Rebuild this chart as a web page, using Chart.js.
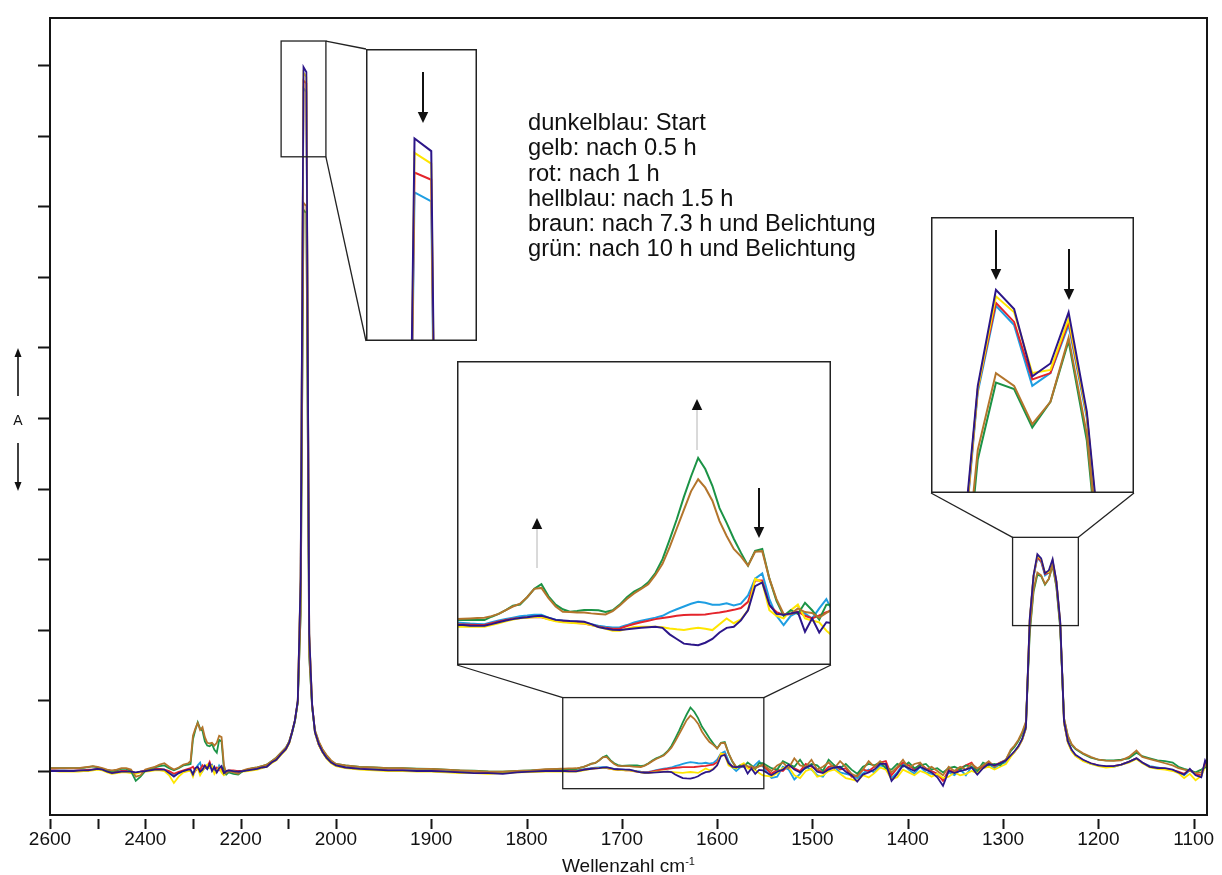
<!DOCTYPE html>
<html>
<head>
<meta charset="utf-8">
<title>IR-Spektren</title>
<script src="https://cdn.jsdelivr.net/npm/chart.js@4.4.1/dist/chart.umd.min.js"></script>
<style>
  html, body { margin: 0; padding: 0; background: #fff; }
  #wrap { position: relative; width: 1222px; height: 875px; overflow: hidden;
          font-family: "Liberation Sans", Arial, Helvetica, sans-serif; color: #111; }
  #main { position: absolute; left: 0; top: 0; }
  .inset { position: absolute; background: #fff; }
  #legend { position: absolute; left: 528px; top: 110px; font-size: 23.7px; line-height: 25.3px; white-space: nowrap; }
  #xtitle { position: absolute; left: 50px; width: 1157px; top: 850px; text-align: center; font-size: 19px; line-height: 22px; }
  #xtitle sup { font-size: 11px; }
  #ylabel { position: absolute; left: 8px; width: 20px; top: 411px; text-align: center; font-size: 14px; line-height: 18px; }
</style>
</head>
<body>
<div id="wrap">
  <canvas id="main" width="1222" height="875"></canvas>
  <div id="legend"></div>
  <div id="xtitle">Wellenzahl cm<sup>-1</sup></div>
  <div id="ylabel">A</div>
</div>
<script>
// ---- Spectral data (absorbance in mA, baseline 0) ----
const wavenumbers = [
  2600,2590,2580,2570,2560,2550,2540,2530,2520,2510,2500,2490,2480,2470,2460,2450,2440,2430,2420,2410,2400,2390,2380,2370,2360,2350,2340,2330,2320,2310,
  2305,2300,2295,2290,2285,2280,2275,2270,2265,2260,2255,2250,2245,2240,2235,2230,2225,
  2215,2205,2195,2185,2175,2165,2155,2145,2135,2125,2115,2105,2098,
  2092,2086,2080,2074,2068,2062,2056,2050,2044,2036,2028,2020,2010,2000,
  1990,1975,1960,1945,1930,1915,1900,1885,1870,1855,1840,1825,1810,1795,1780,1768,
  1764,1760,1756,1752,1748,1744,1740,1736,1732,1728,1724,1720,1716,1712,1708,1704,1700,1696,1692,1688,1684,1680,1676,1672,1668,1664,1660,1656,1652,1648,1644,1640,1636,1632,1628,1624,1620,1616,1612,1608,1604,1600,1596,1592,1588,1584,1580,1576,1572,1568,1564,1560,1556,1552,
  1543,1537,1531,1525,1519,1513,1507,1501,1495,1489,1483,1477,1471,1465,1459,1453,1447,1441,1435,1429,1423,1417,1411,1405,1399,1393,1387,1381,1375,1369,1363,1357,1351,1345,1339,1333,1327,1321,1315,1309,1303,1297,
  1292,1288,1284,1280,1276,1272,1268,1264,1260,1256,1252,1248,1244,1240,1236,1232,1228,1224,
  1216,1208,1200,1192,1184,1176,1168,1160,1154,1146,1138,1130,1122,1116,1110,1104,1098,1092,1088,1084
];

const dunkelblau = [
  0,0,0,0,0,0,0.5,1,1,2, 3,2,-1,-3,-2,-1,-1,-1,-2,-1, 0,1,2,2,2,-3,-8,-3,0,2,
  2,-5,4,6,-1,2,8,3,10,0,6,-2,4,7,-3,0,1,
  0,-1,0,1,2,3,5,6,12,16,24,31,40,
  55,72,100,275,997,990,195,95,55,38,27,19,12,8,
  5,3,2,1,1,0,0,-1,-2,-3,-3,-4,-2,-1,0,0,
  0,0,-0.3,-0.4,-0.4,0.5,1.5,2.5,3.2,3.8, 4.2,4.8,5,4,2.8,2.5,2.2,2,1.8,0.5, -1,-1.8,-2.5,-2.7,-2.2,-1.8,-1.5,-1.2,-0.9,-1.5,
  -5,-7.5,-10,-10.5,-10.8,-9.5,-7.5,-4,-1.5,-0.9, 2.5,8,21,23,11,6,5.5,6.3,7,-3.6, 3.6,-4,1.5,0.9,
  -6,-1,2,9,2,-2,5,8,-1,-3, 2,5,6,-1,-6,-15,-5,-2,2,10, 10,-14,-4,8,4,0,6,2,-2,-9, -21,0,-3,0,2,5,-5,4,10,8, 11,15,
  22,28,35,45,62,216,277,307,301,280,284,300,269,212,70,42,30,23,
  16,11,8,7,7,9,13,18,12,6,4,4,2,-2,-5,3,-6,-9,15,4
];

const gelb = [
  0,0,-1,-1,-1,-1,-1,0,0,1, 2,1,-2,-4,-3,-2,-2,-3,-4,-2, -1,0,1,1,0,-6,-17,-8,-2,0,
  0,-8,2,4,-6,0,6,9,4,7,-4,1,5,-2,-6,-3,0,
  0,-2,-1,0,1,2,4,6,11,15,23,30,39,
  54,71,99,272,989,983,193,94,54,37,26,18,11,7,
  4,2,1,0,0,-1,-1,-2,-3,-3,-4,-3,-2,-1.5,-1,-0.9,
  -0.9,-0.9,-0.9,-0.9,-0.9,0,1,2,3,3.7, 4,4.4,4.3,3,2,1.5,1.2,1,0.9,0, -1,-2,-3,-3,-2,-1,-0.9,-0.9,-0.9,-1.2,
  -1.8,-2.3,-2.7,-2,-1.4,-2,-2.7,0.5,3.6,1, 3,8,25,23,8,5,3.6,8,11,3.6, 2.5,1.5,-3,-6.3,
  -8,-3,4,6,-6,-10,0,3,-8,-6, 0,2,-4,-10,-12,-14,-6,-9,-3,5, 2,-12,-9,2,-2,-6,0,-3,-8,-4, -10,-8,-2,-6,-4,0,-3,4,6,2, 6,10,
  20,27,34,44,61,214,276,305,300,281,282,298,268,210,68,40,28,21,
  14,10,7,5,6,9,12,17,11,5,3,2,0,-3,-10,-4,-13,-7,6,2
];

const rot = [
  1,1,0.5,0.5,0.5,0.5,1,1,2,2, 3,2,0,-2,-1,0,0,-1,-3,-1, 1,2,3,3,2,0,-4,-1,1,3,
  4,6,0,5,2,8,4,6,13,3,2,5,1,3,-4,0,1,
  1,0,0,1,2,3,5,7,12,16,24,31,40,
  55,71,99,270,978,974,192,94,55,37,27,19,12,8,
  5,3,2,1,1,0,0,-1,-2,-2,-3,-2,-1,0,0.3,0.4,
  0.4,0.3,0.2,0.1,0,1,2,2.8,3.4,3.8, 4.1,4.4,4.2,3.2,2.3,1.8,1.5,1.1,0.9,0, -0.8,-1.5,-2,-1.8,-0.5,0.6,1.5,2.3,3.2,3.8,
  4.4,5,5.4,5.5,5.6,5.7,6.3,6.8,7.4,8.2, 9.2,12.5,24,24,10.5,7,5.4,6,7.2,5, 3.6,5.2,7,8.1,
  -4,2,0,8,4,0,10,6,2,-2, 6,8,2,4,-8,-6,2,0,6,12, 14,-6,4,12,8,2,10,4,0,-4, -14,2,-2,4,8,12,0,6,12,8, 12,15,
  21,27,34,44,61,213,276,303,297,279,281,297,268,209,69,41,29,22,
  15,11,8,6,7,9,13,18,12,6,4,3,1,-1,-4,2,-4,-6,12,6
];

const hellblau = [
  1,1,1,1,0.5,0.5,1,1,1,2, 3,2,-1,-3,-2,-1,-1,-2,-3,-1, 0,1,2,3,2,-2,-6,-3,0,2,
  1,-3,3,8,12,0,5,3,6,9,1,-1,8,3,-5,-2,0,
  0,-1,0,1,2,3,5,7,12,16,24,31,40,
  54,70,98,266,967,962,190,93,54,37,27,19,12,8,
  5,3,2,1,1,0.5,0,-1,-1.5,-2,-2.5,-2,-1,0,1,1.4,
  1.4,1.1,0.8,0.6,0.4,1.5,2.5,3.3,4,4.7, 5.1,5.6,5.5,4,2.9,2.3,2,1.6,1.4,0.5, -0.3,-0.9,-1.3,-1.2,0,1.4,2.3,3.2,4,5,
  7,8.5,10,11.5,12.6,12,11,10.9,11.7,10.5, 11.5,16,25,27.8,14,5,0,5,7,6.3, 3.5,9,14,6.3,
  -10,-8,6,2,-12,-4,6,2,-6,-8, 4,6,-2,-4,-6,-10,-3,2,-2,8, 6,-10,-2,10,2,-4,6,-2,-4,-6, -12,-2,-6,2,-6,6,-4,8,10,4, 10,12,
  21,27,34,44,60,212,275,302,296,277,281,296,267,208,68,41,29,22,
  15,10,8,6,6,9,13,18,12,7,5,3,1,-2,-6,1,-5,-8,10,3
];

const braun = [
  4,4,4,4,4,4,4,5,6,7, 6,4,2,1,2,4,4,2,-8,-6, 2,4,6,9,11,6,2,5,9,11,
  14,50,60,68,58,62,48,40,39,40,36,40,50,48,8,-3,0,
  -2,-4,1,3,4,5,7,9,14,19,26,33,42,
  56,72,98,225,805,800,165,92,58,42,31,23,15,10,
  8,6,5,4,4,3,3,2,1,0,-1,-1,0,1,2.5,3,
  3.2,3.4,3.6,3.8,3.9,4.8,6,8,10,11.5, 15,19.5,20,14.5,10,7.2,7,6.8,6.8,6.3, 6,5.7,7.5,10.5,14,17,19.5,22,27,33,
  42,52,62,72,78.5,74,67,56,48,41, 37,32,39.5,39.8,25,14,6,6,9,7, 6.5,4,6.5,9,
  0,8,12,4,18,8,6,16,2,6, 12,4,14,6,-4,-8,2,14,6,14, 8,-2,6,16,4,10,12,2,6,0, -6,6,0,6,2,10,4,8,14,6, 12,16,
  30,36,44,55,70,200,257,281,277,265,272,292,262,205,75,50,38,32,
  25,20,16,14.6,14.5,15,20,29,20,17,14,11,8,4,2,0,-3,-2,8,5
];

const gruen = [
  4,4,4,4,4,4,4,4.5,5.5,6.5, 5,3,1,0,1,3,3,0,-14,-8, 0,3,5,7,8,4,1,4,8,9,
  10,45,58,69,60,57,42,36,35,38,30,26,44,42,3,-5,-2,
  -4,-5,0,2,4,5,7,9,14,19,26,33,42,
  55,71,97,222,795,790,162,91,57,41,30,22,14,10,
  8,6,5,4,4,3.5,3,2,1,0.5,-0.5,-1,0,1,2,2.7,
  2.7,2.7,2.7,2.7,2.7,4.5,6,8,10.4,11.1, 15,19.5,22,15.5,11,8.5,7.2,7.6,8.1,8.1, 8,7,8,11,15,18,20,23,28,35.5,
  46,57,69,80,90,84,75,63,55,46.5, 39,32,40,41,25,13,5,8,6,12, 8,3,11,11,
  4,2,14,10,6,16,4,10,8,0, 16,8,4,10,2,-4,6,10,8,12, 4,2,10,6,12,4,8,10,2,4, -2,4,6,2,8,6,0,12,8,10, 8,16,
  28,34,42,53,68,195,254,278,276,264,272,291,260,202,74,49,37,31,
  24,19,16,15,15,16,18,26,21,18,15,14,12,6,3,1,-2,2,5,8
];

const seriesLabels = [
  'dunkelblau: Start',
  'gelb: nach 0.5 h',
  'rot: nach 1 h',
  'hellblau: nach 1.5 h',
  'braun: nach 7.3 h und Belichtung',
  'grün: nach 10 h und Belichtung'
];
const seriesValues = [dunkelblau, gelb, rot, hellblau, braun, gruen];
const seriesColors = ['#2c1689', '#ffe600', '#e4242b', '#1e9ee2', '#b3752c', '#1b9346'];
// Chart.js paints the first dataset last, so this list runs from top layer to bottom layer
const drawOrder = [0, 4, 5, 1, 2, 3];

const tickWavenumbers = [2600, 2500, 2400, 2300, 2200, 2100, 2000, 1900, 1800, 1700, 1600, 1500, 1400, 1300, 1200, 1100];
const labelledWavenumbers = [2600, 2400, 2200, 2000, 1900, 1800, 1700, 1600, 1500, 1400, 1300, 1200, 1100];
const absorbanceTicks = [0, 100, 200, 300, 400, 500, 600, 700, 800, 900, 1000];

seriesValues.forEach((s, i) => {
  if (s.length !== wavenumbers.length) console.error('length mismatch', seriesLabels[i], s.length, wavenumbers.length);
});

// The wavenumber axis is compressed by a factor of two above 2000 cm-1
const BREAK = 2000;
function toAxis(wn) { return wn >= BREAK ? (2600 - wn) / 2 : 300 + (BREAK - wn); }
function fromAxis(u) { return u <= 300 ? 2600 - 2 * u : BREAK - (u - 300); }

function makeDatasets(width) {
  return drawOrder.map(i => ({
    label: seriesLabels[i],
    data: wavenumbers.map((w, k) => ({ x: toAxis(w), y: seriesValues[i][k] })),
    borderColor: seriesColors[i],
    backgroundColor: seriesColors[i],
    borderWidth: width,
    pointRadius: 0,
    tension: 0,
    fill: false
  }));
}

// Magnified views: region of the main plot (data units) and where the enlargement sits (pixels)
const insets = [
  { id: 'inset1', box: { wn: [2115, 2021], a: [870, 1034] },
    left: 366, top: 49, width: 111, height: 292,
    wn: [2085.4, 2045.6], a: [884, 1047],
    links: [['tr', 'tl'], ['br', 'bl']],
    arrows: [{ x: 57, from: 23, to: 74, kind: 'bold' }] },
  { id: 'inset2', box: { wn: [1762, 1551], a: [-25, 104] },
    left: 457, top: 361, width: 374, height: 304,
    wn: [1763.4, 1553.4], a: [-21.5, 142.2],
    links: [['tl', 'bl'], ['tr', 'br']],
    arrows: [{ x: 80, from: 207, to: 157, kind: 'thin' },
             { x: 240, from: 89, to: 38, kind: 'thin' },
             { x: 302, from: 127, to: 177, kind: 'bold' }] },
  { id: 'inset3', box: { wn: [1290, 1221], a: [206, 331] },
    left: 931, top: 217, width: 203, height: 276,
    wn: [1278.3, 1233.6], a: [243.5, 329.8],
    links: [['tl', 'bl'], ['tr', 'br']],
    arrows: [{ x: 65, from: 13, to: 63, kind: 'bold' },
             { x: 138, from: 32, to: 83, kind: 'bold' }] }
];

function drawArrow(ctx, x, y1, y2, kind) {
  const dir = y2 > y1 ? 1 : -1;
  const headL = kind === 'small' ? 9 : 11;
  const headW = kind === 'small' ? 7 : 10.5;
  ctx.save();
  ctx.beginPath();
  ctx.moveTo(x, y1);
  ctx.lineTo(x, y2 - dir * headL * 0.8);
  if (kind === 'thin') { ctx.strokeStyle = '#b4b4b4'; ctx.lineWidth = 1; }
  else { ctx.strokeStyle = '#111'; ctx.lineWidth = kind === 'small' ? 1.6 : 2; }
  ctx.stroke();
  ctx.beginPath();
  ctx.moveTo(x, y2);
  ctx.lineTo(x - headW / 2, y2 - dir * headL);
  ctx.lineTo(x + headW / 2, y2 - dir * headL);
  ctx.closePath();
  ctx.fillStyle = '#111';
  ctx.fill();
  ctx.restore();
}

const mainDecor = {
  id: 'mainDecor',
  afterDatasetsDraw(chart) {
    const { ctx, chartArea: ca, scales: { x, y } } = chart;
    ctx.save();
    // frame
    ctx.strokeStyle = '#151515';
    ctx.lineWidth = 2;
    ctx.strokeRect(ca.left, ca.top, ca.right - ca.left, ca.bottom - ca.top);
    // x tick marks, set slightly below the axis line
    ctx.beginPath();
    tickWavenumbers.forEach(w => {
      const px = Math.round(x.getPixelForValue(toAxis(w))) + 0.5;
      ctx.moveTo(px, ca.bottom + 4);
      ctx.lineTo(px, ca.bottom + 14);
    });
    ctx.stroke();
    // y tick marks
    ctx.beginPath();
    absorbanceTicks.forEach(v => {
      const py = Math.round(y.getPixelForValue(v)) + 0.5;
      ctx.moveTo(ca.left - 12, py);
      ctx.lineTo(ca.left, py);
    });
    ctx.stroke();
    // zoom boxes and their connector lines
    ctx.strokeStyle = '#222';
    ctx.lineWidth = 1.3;
    insets.forEach(ins => {
      const x1 = x.getPixelForValue(toAxis(ins.box.wn[0]));
      const x2 = x.getPixelForValue(toAxis(ins.box.wn[1]));
      const y1 = y.getPixelForValue(ins.box.a[1]);
      const y2 = y.getPixelForValue(ins.box.a[0]);
      ctx.strokeRect(x1, y1, x2 - x1, y2 - y1);
      const boxPt = { tl: [x1, y1], tr: [x2, y1], bl: [x1, y2], br: [x2, y2] };
      const insPt = {
        tl: [ins.left, ins.top], tr: [ins.left + ins.width, ins.top],
        bl: [ins.left, ins.top + ins.height], br: [ins.left + ins.width, ins.top + ins.height]
      };
      ins.links.forEach(([a, b]) => {
        ctx.beginPath();
        ctx.moveTo(boxPt[a][0], boxPt[a][1]);
        ctx.lineTo(insPt[b][0], insPt[b][1]);
        ctx.stroke();
      });
    });
    // direction marks beside the absorbance label
    drawArrow(ctx, 18, 396, 348, 'small');
    drawArrow(ctx, 18, 443, 491, 'small');
    ctx.restore();
  }
};

Chart.defaults.font.family = '"Liberation Sans", Arial, Helvetica, sans-serif';
Chart.defaults.color = '#111';

new Chart(document.getElementById('main'), {
  type: 'line',
  data: { datasets: makeDatasets(1.8) },
  options: {
    responsive: false,
    animation: false,
    devicePixelRatio: 1,
    layout: { padding: { left: 38, right: 15, top: 18, bottom: 0 } },
    plugins: { legend: { display: false }, tooltip: { enabled: false } },
    scales: {
      x: {
        type: 'linear',
        min: 0,
        max: toAxis(1086),
        afterBuildTicks: s => { s.ticks = tickWavenumbers.map(w => ({ value: toAxis(w) })); },
        afterFit: s => { s.height = 60; s.paddingLeft = 0; s.paddingRight = 0; },
        grid: { display: false, drawTicks: false },
        border: { display: false },
        ticks: {
          autoSkip: false, maxRotation: 0, minRotation: 0, padding: 13,
          font: { size: 19 }, color: '#111',
          callback: v => {
            const wn = Math.round(fromAxis(v));
            return labelledWavenumbers.includes(wn) ? String(wn) : '';
          }
        }
      },
      y: {
        type: 'linear',
        min: -62.3,
        max: 1066.6,
        afterBuildTicks: s => { s.ticks = absorbanceTicks.map(v => ({ value: v })); },
        afterFit: s => { s.width = 12; s.paddingTop = 0; s.paddingBottom = 0; },
        grid: { display: false, drawTicks: false },
        border: { display: false },
        ticks: { display: false }
      }
    }
  },
  plugins: [mainDecor]
});

// enlarged views
insets.forEach(ins => {
  const cv = document.createElement('canvas');
  cv.className = 'inset';
  cv.width = ins.width;
  cv.height = ins.height;
  cv.style.left = ins.left + 'px';
  cv.style.top = ins.top + 'px';
  document.getElementById('wrap').insertBefore(cv, document.getElementById('legend'));
  new Chart(cv, {
    type: 'line',
    data: { datasets: makeDatasets(2) },
    options: {
      responsive: false,
      animation: false,
      devicePixelRatio: 1,
      layout: { padding: 0 },
      plugins: { legend: { display: false }, tooltip: { enabled: false } },
      scales: {
        x: { type: 'linear', display: false, min: toAxis(ins.wn[0]), max: toAxis(ins.wn[1]) },
        y: { type: 'linear', display: false, min: ins.a[0], max: ins.a[1] }
      }
    },
    plugins: [{
      id: 'insetDecor',
      afterDraw(chart) {
        const c = chart.ctx;
        c.save();
        c.strokeStyle = '#222';
        c.lineWidth = 1.5;
        c.strokeRect(0.75, 0.75, chart.width - 1.5, chart.height - 1.5);
        ins.arrows.forEach(a => drawArrow(c, a.x, a.from, a.to, a.kind));
        c.restore();
      }
    }]
  });
});

// legend text
const legend = document.getElementById('legend');
seriesLabels.forEach(t => {
  const d = document.createElement('div');
  d.textContent = t;
  legend.appendChild(d);
});
</script>
</body>
</html>
